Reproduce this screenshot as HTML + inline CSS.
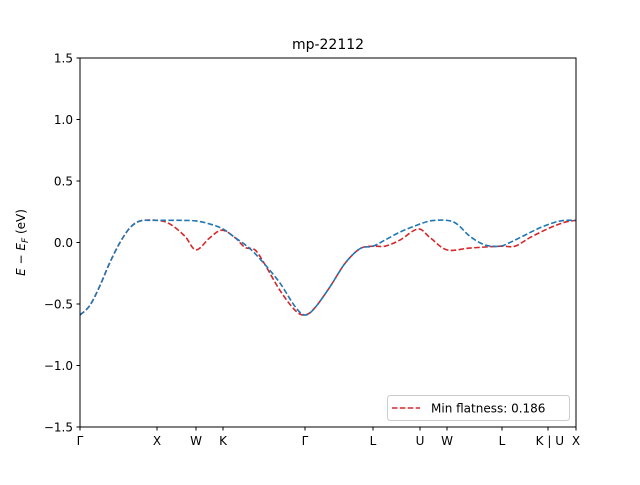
<!DOCTYPE html>
<html><head><meta charset="utf-8"><style>
body{margin:0;background:#fff;}
svg text{font-family:"DejaVu Sans","Liberation Sans",sans-serif;fill:#000;}
</style></head><body>
<svg id="chart" width="640" height="480">
<rect width="640" height="480" fill="#fff"/>
<text x="328" y="49" font-size="14" text-anchor="middle">mp-22112</text>
<g id="plot"></g>
<rect x="80" y="58" width="496" height="369" fill="none" stroke="#000" stroke-width="1"/>
<text transform="translate(25,242.5) rotate(-90)" font-size="12" text-anchor="middle"><tspan font-style="italic">E</tspan> − <tspan font-style="italic">E</tspan><tspan font-size="9" dy="3" font-style="italic">F</tspan><tspan dy="-3"> (eV)</tspan></text>
<g>
<rect x="387.5" y="395.5" width="182" height="25" rx="3" fill="#fff" stroke="#ccc"/>
<line x1="392" y1="408" x2="420" y2="408" stroke="#d62728" stroke-width="1.6" stroke-dasharray="5.5,2.4"/>
<text x="431" y="412.5" font-size="12">Min flatness: 0.186</text>
</g>
</svg>
<script>
const yTicks=[-1.5,-1.0,-0.5,0.0,0.5,1.0,1.5];
const yTickLabels=["−1.5","−1.0","−0.5","0.0","0.5","1.0","1.5"];
const kTicks=[0,77,116,143,225,293,340,367,422,468,496];
const kTickLabels=["Γ","X","W","K","Γ","L","U","W","L","K | U","X"];
const kRed=[0,10,20,30,40,50,60,77,90,105,116,130,142,155,165,175,185,200,215,225,235,250,265,280,293,305,320,338,350,367,390,420,435,450,470,485,496];
const eRed=[-0.59,-0.51,-0.35,-0.16,0,0.12,0.175,0.18,0.15,0.05,-0.06,0.04,0.1,0.04,-0.04,-0.06,-0.18,-0.39,-0.55,-0.59,-0.53,-0.36,-0.17,-0.05,-0.03,-0.03,0.02,0.11,0.04,-0.06,-0.045,-0.03,-0.03,0.04,0.12,0.165,0.18];
const kBlue=[0,10,20,30,40,50,60,70,77,100,116,130,143,155,170,185,200,215,225,235,250,265,280,293,305,320,335,350,367,377,390,405,420,430,445,460,475,485,496];
const eBlue=[-0.59,-0.51,-0.35,-0.16,0,0.12,0.175,0.18,0.18,0.18,0.175,0.15,0.11,0.04,-0.05,-0.18,-0.33,-0.52,-0.59,-0.53,-0.36,-0.17,-0.05,-0.03,0.02,0.085,0.135,0.175,0.18,0.15,0.05,-0.02,-0.03,0,0.06,0.12,0.165,0.18,0.18];
const X0=80,X1=576,Y0=427,Y1=58,KMAX=496,EMIN=-1.5,EMAX=1.5;
const sx=k=>X0+(k/KMAX)*(X1-X0);
const sy=e=>Y0-(e-EMIN)/(EMAX-EMIN)*(Y0-Y1);
const NS="http://www.w3.org/2000/svg";
const svg=document.getElementById('chart');
const plot=document.getElementById('plot');
function mk(t,a,p){const el=document.createElementNS(NS,t);for(const k in a)el.setAttribute(k,a[k]);(p||svg).appendChild(el);return el;}
function smooth(ks,es){const p=ks.map((k,i)=>[sx(k),sy(es[i])]);let d=`M${p[0][0]},${p[0][1]}`;
for(let i=0;i<p.length-1;i++){const a=p[Math.max(i-1,0)],b=p[i],c=p[i+1],e=p[Math.min(i+2,p.length-1)];
d+=` C${b[0]+(c[0]-a[0])/6},${b[1]+(c[1]-a[1])/6} ${c[0]-(e[0]-b[0])/6},${c[1]-(e[1]-b[1])/6} ${c[0]},${c[1]}`;}return d;}
const r=mk('path',{d:smooth(kRed,eRed),fill:'none',stroke:'#d62728','stroke-width':1.6,'stroke-dasharray':'5.5,2.4'},plot);


const b=mk('path',{d:smooth(kBlue,eBlue),fill:'none',stroke:'#1f77b4','stroke-width':1.6,'stroke-dasharray':'5.5,2.4'},plot);


yTicks.forEach((v,i)=>{const y=sy(v);
const l=mk('line',{x1:X0-3.5,x2:X0,y1:y,y2:y,stroke:'#000'});


const t=mk('text',{x:X0-7,y:y+4.5,'font-size':12,'text-anchor':'end'});t.textContent=yTickLabels[i];

});
kTicks.forEach((k,i)=>{const x=sx(k);
const l=mk('line',{x1:x,x2:x,y1:Y0,y2:Y0+3.5,stroke:'#000'});


const t=mk('text',{x:x,y:Y0+18,'font-size':12,'text-anchor':i==kTicks.length-2?'end':'middle'});t.textContent=kTickLabels[i];
if(i==kTicks.length-2)t.setAttribute('x',x+16);

});
</script>
</body></html>
